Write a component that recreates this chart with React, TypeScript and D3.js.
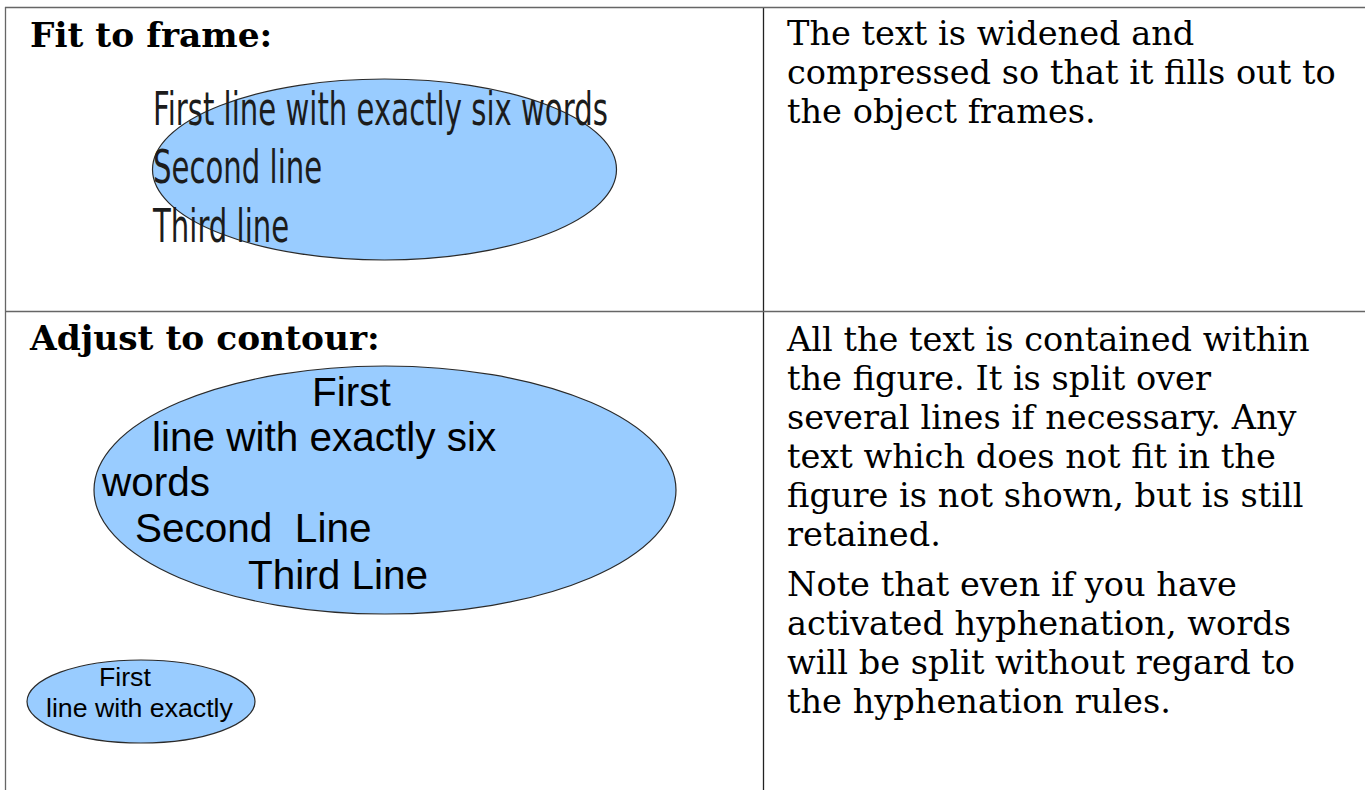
import React, { useEffect, useRef } from 'react';
import * as d3 from 'd3';

// cell headings (left column)
const headings = ['Fit to frame:', 'Adjust to contour:'];

// text inside the shapes
const fitLines = ['First line with exactly six words', 'Second line', 'Third line'];
const contourLines = ['First', 'line with exactly six', 'words', 'Second  Line', 'Third Line'];
const smallLines = ['First', 'line with exactly'];

// explanation text (right column)
const fitNote = ['The text is widened and', 'compressed so that it fills out to', 'the object frames.'];
const contourNote = [
  [
    'All the text is contained within',
    'the figure. It is split over',
    'several lines if necessary. Any',
    'text which does not fit in the',
    'figure is not shown, but is still',
    'retained.',
  ],
  [
    'Note that even if you have',
    'activated hyphenation, words',
    'will be split without regard to',
    'the hyphenation rules.',
  ],
];

const W = 1365;
const H = 790;
const serif = "'DejaVu Serif', serif";
const sans = "'Liberation Sans', Arial, sans-serif";

export default function App() {
  const ref = useRef<SVGSVGElement>(null);

  useEffect(() => {
    const svg = d3.select(ref.current);
    svg.selectAll('*').remove();

    const colX = 763.5;
    const rowY = 311.5;

    // table rules
    const rules = [
      { x1: 5, y1: 7.5, x2: W, y2: 7.5, c: '#666' },
      { x1: 5.5, y1: 7, x2: 5.5, y2: H, c: '#666' },
      { x1: 5, y1: rowY, x2: W, y2: rowY, c: '#666' },
      { x1: colX, y1: 7, x2: colX, y2: H, c: '#222' },
    ];
    svg.selectAll('line.rule')
      .data(rules)
      .enter()
      .append('line')
      .attr('class', 'rule')
      .attr('x1', d => d.x1).attr('y1', d => d.y1)
      .attr('x2', d => d.x2).attr('y2', d => d.y2)
      .attr('stroke', d => d.c)
      .attr('stroke-width', 1.3);

    // headings
    svg.selectAll('text.head')
      .data(headings)
      .enter()
      .append('text')
      .attr('class', 'head')
      .attr('x', 30)
      .attr('y', (d, i) => (i === 0 ? 47 : 350))
      .attr('font-family', serif)
      .attr('font-weight', 'bold')
      .attr('font-size', 34.4)
      .text(d => d);

    // right column notes
    const noteX = 787;
    const lh = 39;
    const note = svg.append('g').attr('font-family', serif).attr('font-size', 33.6).attr('fill', '#000');
    note.selectAll('text.n1')
      .data(fitNote)
      .enter()
      .append('text')
      .attr('x', noteX)
      .attr('y', (d, i) => 45 + i * lh)
      .text(d => d);

    let y = 351;
    contourNote.forEach(para => {
      para.forEach(line => {
        note.append('text').attr('x', noteX).attr('y', y).text(line);
        y += lh;
      });
      y += 11;
    });

    // ellipses
    const blue = '#99ccff';
    const shapes = [
      { cx: 384.5, cy: 169.5, rx: 232, ry: 90.5 },
      { cx: 385, cy: 490, rx: 291, ry: 124 },
      { cx: 141, cy: 701.5, rx: 114, ry: 41.5 },
    ];
    const ell = svg.selectAll('ellipse')
      .data(shapes)
      .enter()
      .append('ellipse')
      .attr('cx', d => d.cx).attr('cy', d => d.cy)
      .attr('rx', d => d.rx).attr('ry', d => d.ry)
      .attr('fill', blue)
      .attr('stroke', '#2a2a2a')
      .attr('stroke-width', 1.2);
    ell.lower();
    svg.selectAll('line.rule').lower();

    // fit to frame: text squeezed horizontally to the frame width
    const fit = svg.append('g')
      .attr('font-family', "'DejaVu Sans', sans-serif")
      .attr('font-size', 46)
      .attr('fill', '#1c1c1c');
    const fitYs = [125, 183.3, 241.7];
    const ft = fit.selectAll('text')
      .data(fitLines)
      .enter()
      .append('text')
      .attr('x', 0)
      .attr('y', (d, i) => fitYs[i])
      .text(d => d);
    const first = ft.node() as SVGTextElement | null;
    const len = first ? first.getComputedTextLength() : 723;
    const sx = 455 / len;
    fit.attr('transform', `translate(153,0) scale(${sx},1)`);

    // adjust to contour: big shape
    const bigX = [312, 152, 102, 135, 248];
    const bigY = [406, 451, 496, 542, 589];
    svg.append('g')
      .attr('font-family', sans)
      .attr('font-size', 40.5)
      .attr('fill', '#000')
      .selectAll('text')
      .data(contourLines)
      .enter()
      .append('text')
      .attr('x', (d, i) => bigX[i])
      .attr('y', (d, i) => bigY[i])
      .style('white-space', 'pre')
      .text(d => d);

    // adjust to contour: small shape
    const smX = [99, 46];
    const smY = [686, 716.7];
    svg.append('g')
      .attr('font-family', sans)
      .attr('font-size', 26.7)
      .attr('fill', '#000')
      .selectAll('text')
      .data(smallLines)
      .enter()
      .append('text')
      .attr('x', (d, i) => smX[i])
      .attr('y', (d, i) => smY[i])
      .text(d => d);
  }, []);

  return (
    <svg
      ref={ref}
      width={W}
      height={H}
      style={{ position: 'absolute', left: 0, top: 0, background: '#fff' }}
    />
  );
}
